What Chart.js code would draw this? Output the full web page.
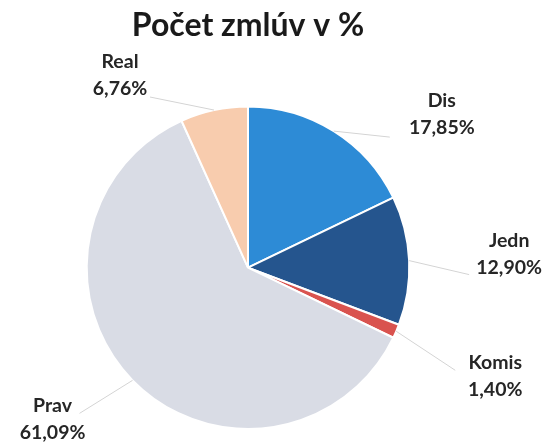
<!DOCTYPE html>
<html>
<head>
<meta charset="utf-8">
<script src="https://cdn.jsdelivr.net/npm/chart.js@4/dist/chart.umd.min.js"></script>
<style>
html,body{margin:0;padding:0;background:#fff;}
#wrap{width:551px;height:448px;}
</style>
</head>
<body>
<div id="wrap"><canvas id="c" width="551" height="448"></canvas></div>
<script>
const titleText = 'Počet zmlúv v %';
const categories = ['Dis', 'Jedn', 'Komis', 'Prav', 'Real'];
const values = [17.85, 12.90, 1.40, 61.09, 6.76];
const valueLabels = ['17,85%', '12,90%', '1,40%', '61,09%', '6,76%'];
const colors = ['#2D8BD6', '#25558E', '#D9534F', '#D9DCE5', '#F8CCAE'];

// layout of the outside labels relative to the slice's edge point (label centre, leader end)
const labelLayout = [
  {dx: 108, dy: -17, lx: 56, ly: 6},
  {dx: 100, dy: -7, lx: 60, ly: 14},
  {dx: 99, dy: 44, lx: 59, ly: 39},
  {dx: -80, dy: 38, lx: -53, ly: 33},
  {dx: -94, dy: -35, lx: -64, ly: -13}
];

const outLabels = {
  id: 'outLabels',
  afterDatasetsDraw(chart) {
    const ctx = chart.ctx;
    const meta = chart.getDatasetMeta(0);
    meta.data.forEach((arc, i) => {
      const mid = (arc.startAngle + arc.endAngle) / 2;
      const ex = arc.x + Math.cos(mid) * arc.outerRadius;
      const ey = arc.y + Math.sin(mid) * arc.outerRadius;
      const L = labelLayout[i];
      ctx.save();
      ctx.strokeStyle = '#D4D4D4';
      ctx.lineWidth = 1;
      ctx.beginPath();
      ctx.moveTo(ex, ey);
      ctx.lineTo(ex + L.lx, ey + L.ly);
      ctx.stroke();
      ctx.fillStyle = '#262626';
      ctx.font = 'bold 19.5px Lato';
      ctx.textAlign = 'center';
      ctx.textBaseline = 'middle';
      const cx = ex + L.dx, cy = ey + L.dy;
      ctx.fillText(categories[i], cx, cy - 13);
      ctx.fillText(valueLabels[i], cx, cy + 14);
      ctx.restore();
    });
  }
};

new Chart(document.getElementById('c'), {
  type: 'pie',
  data: {
    labels: categories,
    datasets: [{
      data: values,
      backgroundColor: colors,
      borderColor: '#ffffff',
      borderWidth: 2
    }]
  },
  options: {
    responsive: false,
    animation: false,
    layout: {padding: {left: 60, right: 115, top: 0, bottom: 18}},
    plugins: {
      legend: {display: false},
      tooltip: {enabled: false},
      title: {
        display: true,
        text: titleText,
        color: '#1A1A1A',
        font: {family: 'Lato', size: 32, weight: 'bold', lineHeight: 1.2},
        padding: {top: 6, bottom: 61}
      }
    }
  },
  plugins: [outLabels]
});
</script>
</body>
</html>
